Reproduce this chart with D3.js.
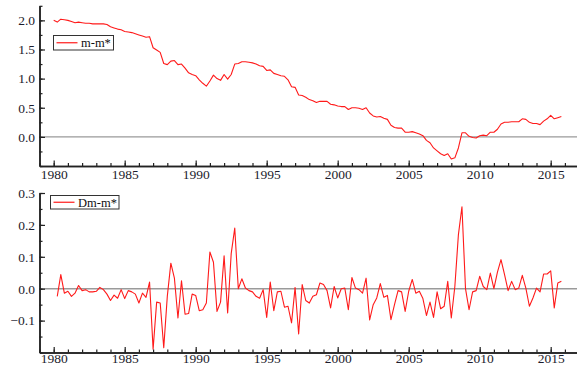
<!DOCTYPE html>
<html>
<head>
<meta charset="utf-8">
<script src="https://cdn.jsdelivr.net/npm/d3@7"></script>
<style>
  html, body { margin: 0; padding: 0; background: #fff; }
  svg { display: block; }
</style>
</head>
<body>
<script>
// Quarterly series, first observation 1980Q1
const startYear = 1980;

// m-m*, 1980Q1 .. 2015Q4
const levelSeries = [
  2.00, 1.97, 2.02, 2.01,
  2.00, 1.98, 1.96, 1.97,
  1.96, 1.95, 1.95, 1.94,
  1.94, 1.94, 1.94, 1.93,
  1.89, 1.87, 1.85, 1.84,
  1.81, 1.80, 1.79, 1.77,
  1.75, 1.73, 1.71, 1.72,
  1.53, 1.49, 1.45, 1.26,
  1.24, 1.30, 1.31, 1.24,
  1.25, 1.18, 1.10, 1.07,
  1.05, 0.98, 0.92, 0.87,
  0.96, 1.06, 1.00, 0.97,
  1.07, 0.99, 1.07, 1.25,
  1.26, 1.29, 1.29, 1.28,
  1.27, 1.25, 1.22, 1.21,
  1.14, 1.15, 1.09, 1.07,
  1.05, 1.04, 0.98, 0.86,
  0.85, 0.72, 0.71, 0.68,
  0.64, 0.62, 0.59, 0.61,
  0.61, 0.61, 0.56, 0.55,
  0.53, 0.52, 0.52, 0.47,
  0.50, 0.50, 0.49, 0.47,
  0.50, 0.41, 0.36, 0.34,
  0.35, 0.32, 0.30, 0.20,
  0.16, 0.15, 0.15, 0.08,
  0.08, 0.09, 0.07, 0.05,
  0.02, -0.06, -0.10, -0.19,
  -0.24, -0.29, -0.32, -0.29,
  -0.38, -0.36, -0.19, 0.07,
  0.07, 0.01, -0.01, -0.02,
  0.02, 0.03, 0.02, 0.08,
  0.08, 0.13, 0.22, 0.25,
  0.25, 0.26, 0.26, 0.26,
  0.31, 0.30, 0.25, 0.23,
  0.23, 0.21, 0.27, 0.31,
  0.37, 0.31, 0.33, 0.35
];

// Dm-m*, 1980Q2 .. 2015Q4
const diffSeries = [
  -0.024, 0.044, -0.014,
  -0.008, -0.024, -0.014, 0.010,
  -0.006, -0.003, -0.010, -0.010,
  -0.008, 0.004, -0.003, -0.017,
  -0.037, -0.020, -0.030, -0.003,
  -0.031, -0.006, -0.010, -0.017,
  -0.045, -0.014, -0.027, 0.021,
  -0.190, -0.042, -0.045, -0.185,
  -0.024, 0.080, 0.033, -0.092,
  0.025, -0.080, -0.078, -0.017,
  -0.021, -0.069, -0.066, -0.045,
  0.115, 0.083, -0.071, -0.042,
  0.103, -0.076, 0.110, 0.190,
  0.000, 0.031, 0.002, -0.006,
  -0.010, -0.024, -0.030, -0.003,
  -0.090, 0.021, -0.069, -0.010,
  -0.008, -0.058, -0.055, -0.107,
  0.004, -0.142, 0.013, -0.037,
  -0.045, -0.024, -0.019, 0.018,
  0.013, -0.006, -0.060, 0.007,
  -0.029, 0.000, 0.002, -0.066,
  0.035, 0.002, -0.003, -0.014,
  0.033, -0.098, -0.050, -0.029,
  0.016, -0.027, -0.021, -0.097,
  -0.050, -0.006, -0.010, -0.071,
  -0.008, 0.029, -0.014, -0.008,
  -0.031, -0.084, -0.042, -0.090,
  -0.010, -0.063, -0.055, 0.023,
  -0.092, 0.007, 0.169, 0.257,
  0.000, -0.066, -0.010, -0.006,
  0.039, 0.007, -0.003, 0.049,
  0.000, 0.052, 0.091, 0.044,
  -0.006, 0.023, -0.003, 0.002,
  0.042, 0.002, -0.055, -0.029,
  0.002, -0.010, 0.046, 0.046,
  0.056, -0.060, 0.018, 0.023
];

const yearTicks = [1980, 1985, 1990, 1995, 2000, 2005, 2010, 2015];
const yearMinor = d3.range(1979, 2018);
const levelTicks = [0.0, 0.5, 1.0, 1.5, 2.0];
const levelMinor = d3.range(-0.5, 2.26, 0.25);
const diffTicks = [-0.1, 0.0, 0.1, 0.2, 0.3];
const diffMinor = d3.range(-0.2, 0.301, 0.05);

const W = 577, H = 366;
const SERIF = "'Liberation Serif', 'Times New Roman', Times, serif";
const svg = d3.select("body").append("svg").attr("width", W).attr("height", H);

const x = d3.scaleLinear().domain([1979, 2017]).range([39.5, 579.1]);

const panels = [
  { data: levelSeries, offset: 0, domain: [-0.5, 2.25], range: [166, 5.8],
    ticks: levelTicks, minor: levelMinor, fmt: d3.format(".1f"), name: "m-m*", xPad: 3,
    legend: { x: 53.5, y: 35.5, w: 60, h: 14.5 } },
  { data: diffSeries, offset: 1, domain: [-0.2, 0.3], range: [352.5, 193],
    ticks: diffTicks, minor: diffMinor, fmt: d3.format(".1f"), name: "Dm-m*", xPad: 0.8,
    legend: { x: 50.5, y: 195.5, w: 68.5, h: 13.5 } }
];

panels.forEach(p => {
  const y = d3.scaleLinear().domain(p.domain).range(p.range);
  const g = svg.append("g");

  // zero reference line
  g.append("line")
    .attr("x1", x.range()[0]).attr("x2", W)
    .attr("y1", y(0)).attr("y2", y(0))
    .attr("stroke", "#9a9a9a").attr("stroke-width", 1.4);

  // series
  const pts = p.data.map((v, i) => [startYear + (i + p.offset) * 0.25, v]);
  g.append("path")
    .datum(pts)
    .attr("fill", "none")
    .attr("stroke", "#ff1a1a")
    .attr("stroke-width", 1.1)
    .attr("stroke-linejoin", "round")
    .attr("d", d3.line().x(d => x(d[0])).y(d => y(d[1])));

  // x axis: minor yearly ticks, then major ticks with labels
  const xMinor = g.append("g").attr("transform", `translate(0,${p.range[0]})`)
    .call(d3.axisBottom(x).tickValues(yearMinor).tickSizeInner(-3).tickSizeOuter(0).tickFormat(""));
  const xMajor = g.append("g").attr("transform", `translate(0,${p.range[0]})`)
    .call(d3.axisBottom(x).tickValues(yearTicks).tickSizeInner(-5.5).tickSizeOuter(0)
      .tickPadding(p.xPad).tickFormat(d3.format("d")));

  // y axis
  const yMinor = g.append("g").attr("transform", `translate(${x.range()[0]},0)`)
    .call(d3.axisLeft(y).tickValues(p.minor).tickSizeInner(-3).tickSizeOuter(0).tickFormat(""));
  const yMajor = g.append("g").attr("transform", `translate(${x.range()[0]},0)`)
    .call(d3.axisLeft(y).tickValues(p.ticks).tickSizeInner(-5.5).tickSizeOuter(0)
      .tickPadding(4.5).tickFormat(p.fmt));

  [xMinor, xMajor, yMinor, yMajor].forEach(a => {
    a.attr("font-family", SERIF).attr("font-size", 13.5);
    a.select(".domain").attr("stroke", "#222").attr("stroke-width", 1.5);
    a.selectAll(".tick line").attr("stroke", "#222").attr("stroke-width", 1.2);
    a.selectAll(".tick text").attr("fill", "#1c1c2c")
      .attr("font-family", SERIF).attr("font-size", 13.5);
  });

  // legend
  const L = p.legend;
  const lg = g.append("g");
  lg.append("rect").attr("x", L.x).attr("y", L.y).attr("width", L.w).attr("height", L.h)
    .attr("fill", "#fff").attr("stroke", "#333").attr("stroke-width", 1);
  lg.append("line").attr("x1", L.x + 3).attr("x2", L.x + 24)
    .attr("y1", L.y + L.h / 2).attr("y2", L.y + L.h / 2)
    .attr("stroke", "#ff1a1a").attr("stroke-width", 1.2);
  lg.append("text").attr("x", L.x + 27.5).attr("y", L.y + L.h / 2 + 4.3)
    .attr("font-family", SERIF).attr("font-size", 12.5).attr("fill", "#111")
    .text(p.name);
});
</script>
</body>
</html>
